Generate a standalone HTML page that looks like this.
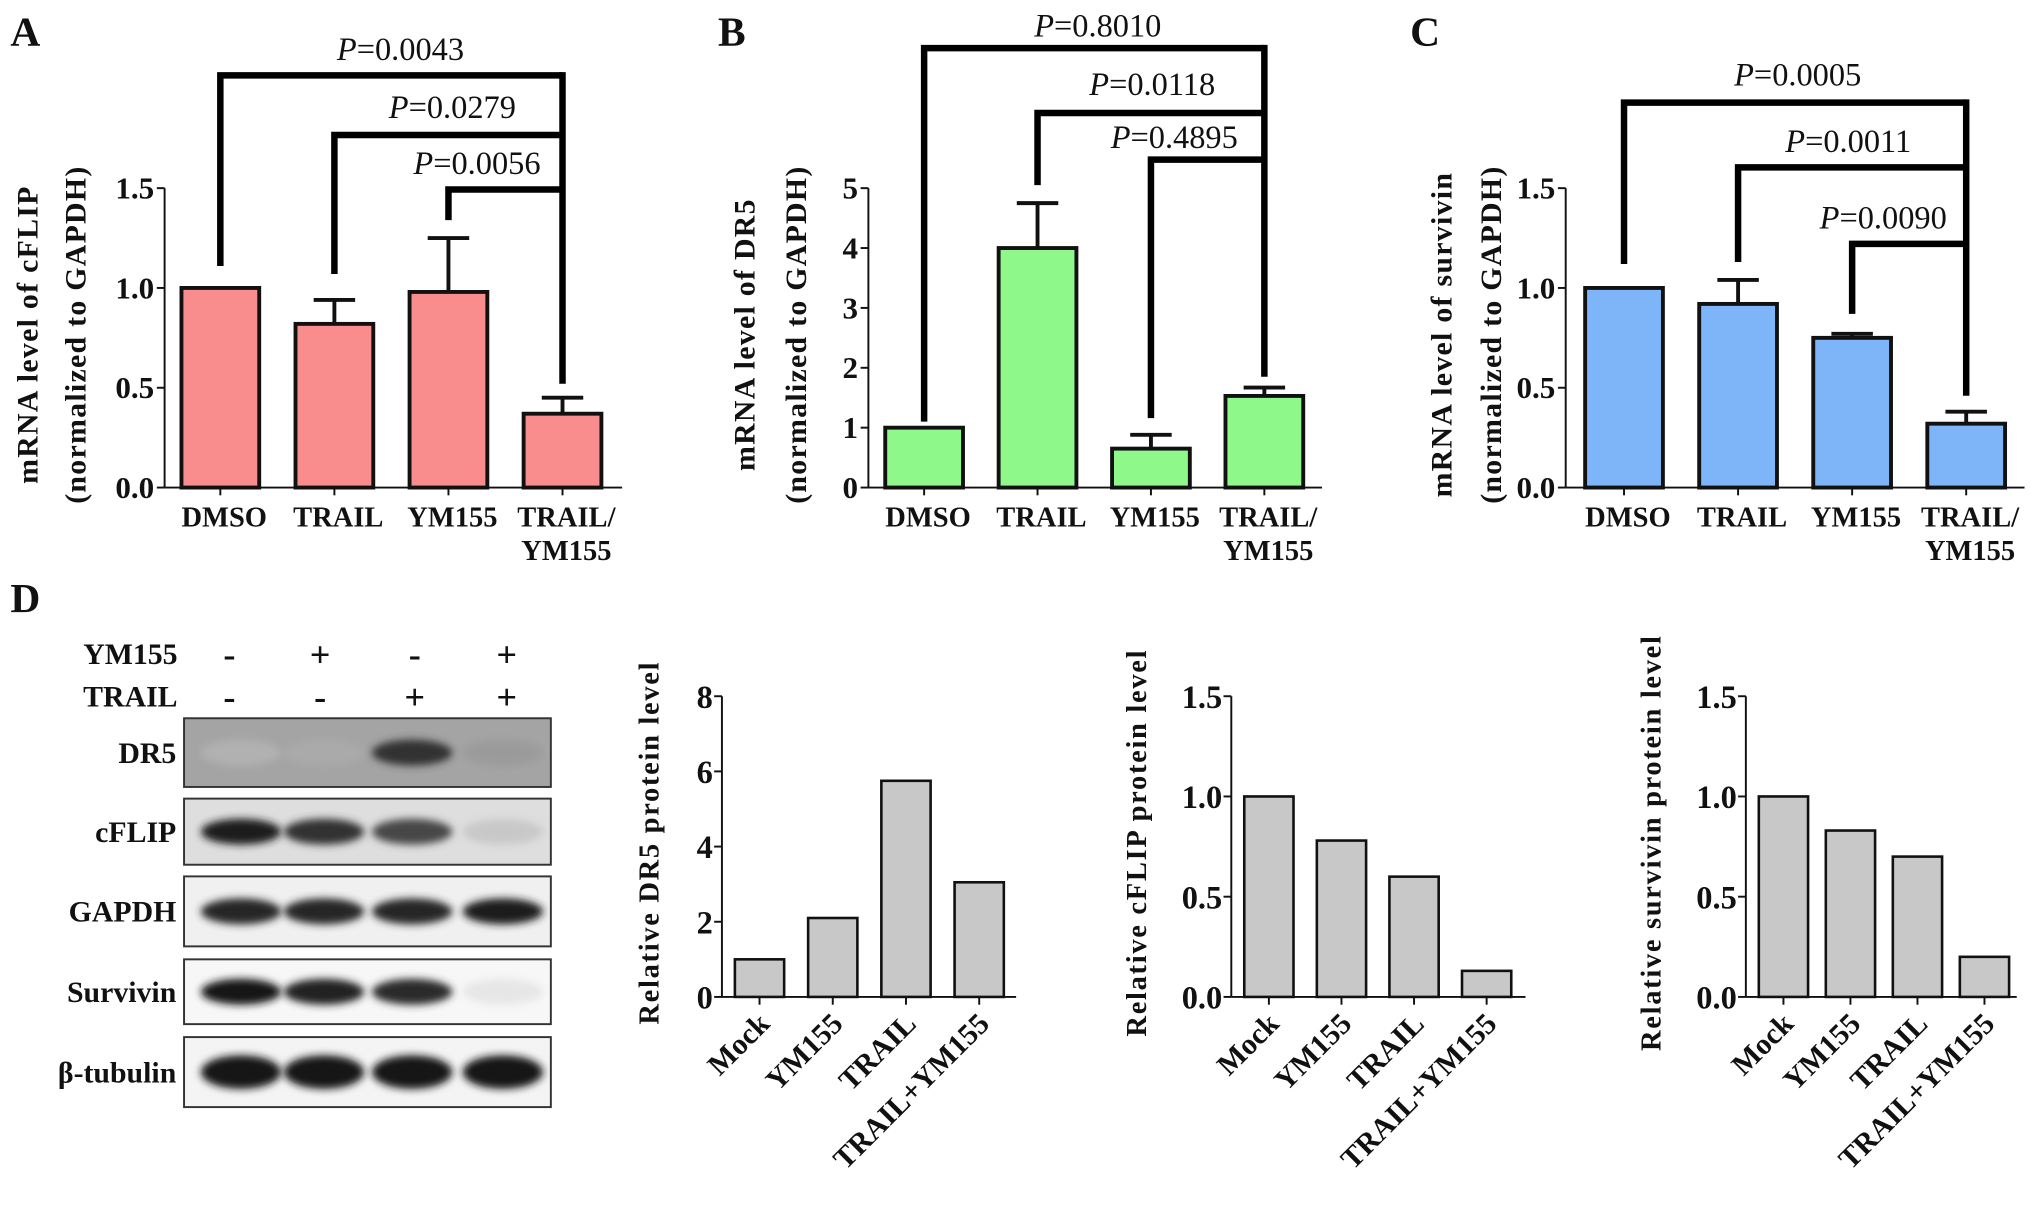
<!DOCTYPE html>
<html><head><meta charset="utf-8"><style>
html,body{margin:0;padding:0;background:#fff}
svg{display:block}
text{font-family:"Liberation Serif",serif;font-weight:bold;fill:#111}
</style></head><body>
<svg id="fig" width="2031" height="1211" viewBox="0 0 1567 934" xmlns="http://www.w3.org/2000/svg">
<defs><filter id="blur" x="-20%" y="-50%" width="140%" height="200%"><feGaussianBlur stdDeviation="3"/></filter></defs>
<g id="root"></g>
</svg>
<script>
const mrnaCats = ["DMSO","TRAIL","YM155","TRAIL/YM155"];
const cflipVals = [1.0,0.82,0.98,0.37];
const cflipErr = [0,0.94,1.25,0.45];
const dr5Vals = [1.0,4.0,0.65,1.53];
const dr5Err = [0,4.75,0.88,1.67];
const survVals = [1.0,0.92,0.75,0.32];
const survErr = [0,1.04,0.77,0.38];
const ticks15 = ["0.0","0.5","1.0","1.5"];
const ticks5 = ["0","1","2","3","4","5"];
const ticks8 = ["0","2","4","6","8"];
const protCats = ["Mock","YM155","TRAIL","TRAIL+YM155"];
const protDR5 = [1.0,2.1,5.75,3.05];
const protCFLIP = [1.0,0.78,0.6,0.13];
const protSurv = [1.0,0.83,0.7,0.2];
const pA = ["0.0043","0.0279","0.0056"];
const pB = ["0.8010","0.0118","0.4895"];
const pC = ["0.0005","0.0011","0.0090"];

const NS="http://www.w3.org/2000/svg";
const root=document.getElementById('root');
function el(tag,attrs,parent,txt){const e=document.createElementNS(NS,tag);for(const k in attrs)e.setAttribute(k,attrs[k]);if(txt!==undefined)e.textContent=txt;(parent||root).appendChild(e);return e;}

function mrnaPanel(o){
  const g=el('g',{});
  
  
  const y=v=>o.y0-(v/o.max)*(o.y0-o.yTop);
  const x=i=>o.x0+o.first+i*o.step;
  const ax=el('line',{x1:o.x0,y1:o.yTop,x2:o.x0,y2:o.y0,stroke:'#111','stroke-width':1.5},g);
  
  const xa=el('line',{x1:o.x0,y1:o.y0,x2:o.x1,y2:o.y0,stroke:'#111','stroke-width':1.5},g);
  
  o.ticks.forEach(t=>{const v=parseFloat(t);
    el('line',{x1:o.x0-6,y1:y(v),x2:o.x0,y2:y(v),stroke:'#111','stroke-width':1.5},g);
    const tl=el('text',{x:o.x0-8,y:y(v)+8,'text-anchor':'end','font-size':24},g,t);
    
  });
  o.vals.forEach((v,i)=>{
    const cx=x(i),w=o.bw;
    if(o.err[i]>v){el('line',{x1:cx,y1:y(v),x2:cx,y2:y(o.err[i]),stroke:'#111','stroke-width':3},g);
      el('line',{x1:cx-16,y1:y(o.err[i]),x2:cx+16,y2:y(o.err[i]),stroke:'#111','stroke-width':3},g);}
    const b=el('rect',{x:cx-w/2,y:y(v),width:w,height:o.y0-y(v),fill:o.color,stroke:'#111','stroke-width':3},g);
    
    
    el('line',{x1:cx,y1:o.y0,x2:cx,y2:o.y0+6,stroke:'#111','stroke-width':1.5},g);
    const parts=mrnaCats[i].split('/');
    const l=el('text',{x:cx+3,y:o.y0+30,'text-anchor':'middle','font-size':22},g,parts.length>1?parts[0]+'/':parts[0]);
    
    if(parts.length>1){const l2=el('text',{x:cx+3,y:o.y0+56,'text-anchor':'middle','font-size':22},g,parts[1]);
      }
  });
  const rx=x(3);
  o.br.forEach((b,k)=>{
    const lx=x(k);
    el('polyline',{points:`${lx},${y(b.leg)} ${lx},${b.top} ${rx},${b.top}`,fill:'none',stroke:'#000','stroke-width':5},g);
    const pt=el('text',{x:b.tx,y:b.ty,'text-anchor':'middle','font-size':25,'font-weight':'normal'},g);
    
    el('tspan',{'font-style':'italic','font-weight':'normal'},pt,'P');
    el('tspan',{'font-weight':'normal'},pt,'='+o.p[k]);
  });
  el('line',{x1:rx,y1:o.br[0].top-2.5,x2:rx,y2:y(o.rightLeg),stroke:'#000','stroke-width':5},g);
  const cy=o.labelY;
  const t1=el('text',{x:0,y:0,transform:`translate(${o.lx1},${cy}) rotate(-90)`,'text-anchor':'middle','font-size':23,'letter-spacing':1},g,o.ylab1);
  
  const t2=el('text',{x:0,y:0,transform:`translate(${o.lx2},${cy}) rotate(-90)`,'text-anchor':'middle','font-size':23,'letter-spacing':1},g,'(normalized to GAPDH)');
  
  const pl=el('text',{x:o.px,y:35,'font-size':32},g,o.letter);
  
}
mrnaPanel({name:'panel-a-cflip-mrna',letter:'A',px:8,x0:127,x1:480,first:43,step:88,bw:60,y0:376,yTop:145,max:1.5,ticks:ticks15,vals:cflipVals,err:cflipErr,color:'#f98c8c',
  p:pA,br:[{top:58,ty:46,leg:1.11,tx:309},{top:104,ty:91,leg:1.07,tx:349},{top:146,ty:134,leg:1.34,tx:368}],rightLeg:0.52,ylab1:'mRNA level of cFLIP',lx1:29,lx2:66,labelY:258});
mrnaPanel({name:'panel-b-dr5-mrna',letter:'B',px:554,x0:670,x1:1020,first:43,step:87.5,bw:60,y0:376,yTop:145,max:5,ticks:ticks5,vals:dr5Vals,err:dr5Err,color:'#8ef98a',
  p:pB,br:[{top:37,ty:28,leg:1.1,tx:847},{top:87,ty:73,leg:5.05,tx:889},{top:123,ty:114,leg:1.16,tx:906}],rightLeg:1.85,ylab1:'mRNA level of DR5',lx1:582,lx2:622,labelY:258});
mrnaPanel({name:'panel-c-survivin-mrna',letter:'C',px:1088,x0:1208,x1:1562,first:45,step:88,bw:60,y0:376,yTop:145,max:1.5,ticks:ticks15,vals:survVals,err:survErr,color:'#7eb4f8',
  p:pC,br:[{top:79,ty:66,leg:1.12,tx:1387},{top:129,ty:117,leg:1.13,tx:1426},{top:188,ty:176,leg:0.87,tx:1453}],rightLeg:0.46,ylab1:'mRNA level of survivin',lx1:1120,lx2:1158,labelY:258});

const blotNames=["DR5","cFLIP","GAPDH","Survivin","β-tubulin"];
const blotTop=[554,616,676,740,800];
const blotH=[53,51,54,50,54];
const blotBg=["#a4a4a4","#dedede","#f0f0f0","#f7f7f7","#f4f4f4"];
const bandInt=[[0.12,0.22,0.85,0.35],[0.95,0.85,0.75,0.2],[0.9,0.9,0.9,0.95],[1,0.92,0.88,0.08],[1,1,1,1]];
const laneX=[186,250,318,388];
const signX=[177,247,320,391];
const ym155Signs=["-","+","-","+"];
const trailSigns=["-","-","+","+"];
{
  const g=el('g',{});
  
  const d=el('text',{x:8,y:472,'font-size':32},g,'D');
  
  el('text',{x:137,y:512,'text-anchor':'end','font-size':23},g,'YM155');
  el('text',{x:137,y:545,'text-anchor':'end','font-size':23},g,'TRAIL');
  signX.forEach((lx,i)=>{
    el('text',{x:lx,y:514,'text-anchor':'middle','font-size':28},g,ym155Signs[i]);
    el('text',{x:lx,y:547,'text-anchor':'middle','font-size':28},g,trailSigns[i]);
  });
  blotNames.forEach((n,r)=>{
    const row=el('g',{},g);
    
    el('rect',{x:142,y:blotTop[r],width:283,height:blotH[r],fill:blotBg[r],stroke:'#333','stroke-width':1.5},row);
    bandInt[r].forEach((a,i)=>{
      const c=Math.round(20+(1-a)*200);
      el('ellipse',{cx:laneX[i],cy:blotTop[r]+blotH[r]/2,rx:31,ry:r===4?13:10,fill:`rgb(${c},${c},${c})`,filter:'url(#blur)',opacity:Math.min(1,0.3+a)},row);
    });
    el('text',{x:136,y:blotTop[r]+blotH[r]/2+8,'text-anchor':'end','font-size':23},row,n);
  });
}

function protChart(o){
  const g=el('g',{});
  
  const y0=769,yTop=537;
  const y=v=>y0-(v/o.max)*(y0-yTop);
  const x=i=>o.x0+o.first+i*o.step;
  const ya=el('line',{x1:o.x0,y1:yTop,x2:o.x0,y2:y0,stroke:'#111','stroke-width':1.5},g);
  
  const xa=el('line',{x1:o.x0,y1:y0,x2:o.x1,y2:y0,stroke:'#111','stroke-width':1.5},g);
  
  o.ticks.forEach(t=>{const v=parseFloat(t);
    el('line',{x1:o.x0-6,y1:y(v),x2:o.x0,y2:y(v),stroke:'#111','stroke-width':1.5},g);
    const tl=el('text',{x:o.x0-7,y:y(v)+9,'text-anchor':'end','font-size':25},g,t);
    
  });
  o.vals.forEach((v,i)=>{
    const cx=x(i);
    const b=el('rect',{x:cx-19,y:y(v),width:38,height:y0-y(v),fill:'#c8c8c8',stroke:'#111','stroke-width':2},g);
    
    
    el('line',{x1:cx,y1:y0,x2:cx,y2:y0+6,stroke:'#111','stroke-width':1.5},g);
    const l=el('text',{x:0,y:0,transform:`translate(${cx+9},${y0+22}) rotate(-45)`,'text-anchor':'end','font-size':23},g,protCats[i]);
    
  });
  const t=el('text',{x:0,y:0,transform:`translate(${o.lx},${o.ly}) rotate(-90)`,'text-anchor':'middle','font-size':22,'letter-spacing':1.3},g,o.ylab);
  
}
protChart({name:'dr5-protein-chart',x0:557,x1:784,first:29,step:56.5,max:8,ticks:ticks8,vals:protDR5,ylab:'Relative DR5 protein level',lx:508,ly:650});
protChart({name:'cflip-protein-chart',x0:950,x1:1177,first:29,step:56,max:1.5,ticks:ticks15,vals:protCFLIP,ylab:'Relative cFLIP protein level',lx:884,ly:650});
protChart({name:'survivin-protein-chart',x0:1347,x1:1556,first:29,step:51.7,max:1.5,ticks:ticks15,vals:protSurv,ylab:'Relative survivin protein level',lx:1281,ly:650});
</script>
</body></html>
